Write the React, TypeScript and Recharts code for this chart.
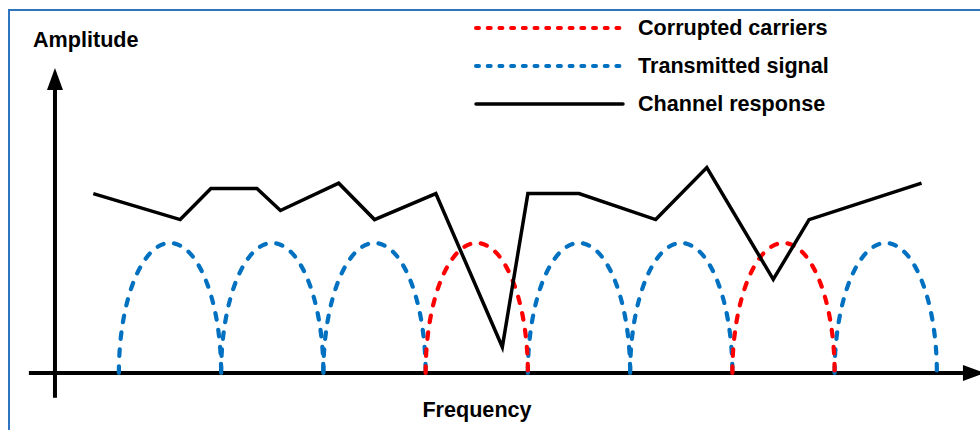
import React from "react";
import { LineChart, Line, XAxis, YAxis, ReferenceLine, Legend } from "recharts";

// carriers (frequency in carrier-spacing units)
const carrierCenters = [1, 2, 3, 4, 5, 6, 7, 8];
const corruptedCarriers = [4, 7];
const carrierPeak = 1;
const carrierHalfWidth = 0.5;

// channel response polyline
const responseFreq = [0.25, 1.1, 1.4, 1.85, 2.08, 2.65, 3.0, 3.6, 4.25, 4.5, 5.0, 5.75, 6.25, 6.9, 7.25, 8.35];
const responseAmp = [1.38, 1.18, 1.42, 1.42, 1.25, 1.46, 1.18, 1.38, 0.2, 1.38, 1.38, 1.18, 1.58, 0.72, 1.18, 1.46];

// axis arrows
const freqAxisRange = [-0.38, 8.755];
const ampAxisRange = [-0.19, 2.177];
const ampAxisAt = -0.125;

const legendItems = [
  { label: "Corrupted carriers", color: "#ff0000", dash: "3 8.7" },
  { label: "Transmitted signal", color: "#0070c0", dash: "3 8.7" },
  { label: "Channel response", color: "#000000", dash: undefined },
];

const RED = "#ff0000";
const BLUE = "#0070c0";
const FONT = "'Liberation Sans', Arial, sans-serif";
const FS = 21.6;
const ARC_DASH = "6.5 10.5";

const arcData = (c: number) => [
  { f: c - carrierHalfWidth, a: 0 },
  { f: c, a: carrierPeak },
  { f: c + carrierHalfWidth, a: 0 },
];

const responseData = responseFreq.map((f, i) => ({ f, a: responseAmp[i] }));

// d3-style curve: quarter ellipses between points (vertical tangent at the base, flat at the top)
function EllipseCurve(this: any, context: any) {
  this._context = context;
}
EllipseCurve.prototype = {
  areaStart() {
    this._line = 0;
  },
  areaEnd() {
    this._line = NaN;
  },
  lineStart() {
    this._point = 0;
  },
  lineEnd() {
    if (this._line || (this._line !== 0 && this._point === 1)) this._context.closePath();
    this._line = 1 - this._line;
  },
  point(x: number, y: number) {
    x = +x;
    y = +y;
    const ctx = this._context;
    if (this._point === 0) {
      this._point = 1;
      this._line ? ctx.lineTo(x, y) : ctx.moveTo(x, y);
    } else {
      this._point = 2;
      const x0 = this._x0, y0 = this._y0, k = 0.5523;
      if (y < y0) {
        ctx.bezierCurveTo(x0, y0 + k * (y - y0), x - k * (x - x0), y, x, y);
      } else {
        ctx.bezierCurveTo(x0 + k * (x - x0), y0, x, y - k * (y - y0), x, y);
      }
    }
    this._x0 = x;
    this._y0 = y;
  },
};
const curveHalfEllipse = (context: any) => new (EllipseCurve as any)(context);

const AxisArrow = (p: any) => {
  const { x1, y1, x2, y2 } = p;
  const horiz = Math.abs(x2 - x1) > Math.abs(y2 - y1);
  let sx, sy, ex, ey;
  if (horiz) {
    sx = Math.min(x1, x2);
    ex = Math.max(x1, x2);
    sy = ey = y1;
  } else {
    sy = Math.max(y1, y2);
    ey = Math.min(y1, y2);
    sx = ex = x1;
  }
  const len = Math.hypot(ex - sx, ey - sy) || 1;
  const dx = (ex - sx) / len, dy = (ey - sy) / len;
  const nx = -dy, ny = dx;
  const L = 22, W = 8;
  const pts = [
    [ex + dx * L, ey + dy * L],
    [ex + nx * W, ey + ny * W],
    [ex - nx * W, ey - ny * W],
  ]
    .map((q) => q.join(","))
    .join(" ");
  return (
    <g>
      <line x1={sx} y1={sy} x2={ex} y2={ey} stroke="#000" strokeWidth={4} />
      <polygon points={pts} fill="#000" />
    </g>
  );
};

const LegendBox = () => (
  <div style={{ fontFamily: FONT, fontWeight: "bold", fontSize: FS }}>
    {legendItems.map((it) => (
      <div key={it.label} style={{ display: "flex", alignItems: "center", height: 38 }}>
        <svg width={170} height={38} style={{ display: "block" }}>
          <line
            x1={8}
            x2={155}
            y1={19}
            y2={19}
            stroke={it.color}
            strokeWidth={it.dash ? 4 : 3.5}
            strokeDasharray={it.dash}
            strokeLinecap="round"
          />
        </svg>
        <span style={{ color: "#000", whiteSpace: "nowrap" }}>{it.label}</span>
      </div>
    ))}
  </div>
);

export default function App() {
  return (
    <div style={{ position: "absolute", left: 0, top: 0, width: 980, height: 430, overflow: "hidden", background: "#fff" }}>
      <div
        style={{
          position: "absolute",
          left: 8,
          top: 9,
          width: 1200,
          height: 600,
          border: "2px solid #2f74c0",
        }}
      />
      <div
        style={{
          position: "absolute",
          left: 33,
          top: 29,
          fontFamily: FONT,
          fontWeight: "bold",
          fontSize: FS,
          lineHeight: `${FS}px`,
          color: "#000",
        }}
      >
        Amplitude
      </div>
      <div
        style={{
          position: "absolute",
          left: 377,
          width: 200,
          textAlign: "center",
          top: 399,
          fontFamily: FONT,
          fontWeight: "bold",
          fontSize: FS,
          lineHeight: `${FS}px`,
          color: "#000",
        }}
      >
        Frequency
      </div>
      <div style={{ position: "absolute", left: 0, top: 0 }}>
        <LineChart width={980} height={430} margin={{ top: 35, right: 12.45, bottom: 31, left: 6.4 }}>
          <XAxis type="number" dataKey="f" domain={[-0.6, 8.8]} hide allowDataOverflow />
          <YAxis type="number" dataKey="a" domain={[-0.2, 2.6]} hide allowDataOverflow />
          <ReferenceLine
            segment={[
              { x: freqAxisRange[0], y: 0 },
              { x: freqAxisRange[1], y: 0 },
            ]}
            ifOverflow="visible"
            shape={AxisArrow}
          />
          <ReferenceLine
            segment={[
              { x: ampAxisAt, y: ampAxisRange[0] },
              { x: ampAxisAt, y: ampAxisRange[1] },
            ]}
            ifOverflow="visible"
            shape={AxisArrow}
          />
          {carrierCenters
            .filter((c) => !corruptedCarriers.includes(c))
            .map((c) => (
              <Line
                key={`tx-${c}`}
                data={arcData(c)}
                dataKey="a"
                type={curveHalfEllipse as any}
                stroke={BLUE}
                strokeWidth={4.2}
                strokeDasharray={ARC_DASH}
                strokeLinecap="round"
                dot={false}
                activeDot={false}
                legendType="none"
                isAnimationActive={false}
              />
            ))}
          {corruptedCarriers.map((c) => (
            <Line
              key={`bad-${c}`}
              data={arcData(c)}
              dataKey="a"
              type={curveHalfEllipse as any}
              stroke={RED}
              strokeWidth={4.2}
              strokeDasharray={ARC_DASH}
              strokeLinecap="round"
              dot={false}
              activeDot={false}
              legendType="none"
              isAnimationActive={false}
            />
          ))}
          <Line
            data={responseData}
            dataKey="a"
            type="linear"
            stroke="#000"
            strokeWidth={3.5}
            strokeLinejoin="miter"
            dot={false}
            activeDot={false}
            isAnimationActive={false}
          />
          <Legend
            layout="horizontal"
            verticalAlign="middle"
            align="center"
            content={LegendBox}
            wrapperStyle={{ left: 468, top: 9, width: 420, height: "auto" }}
          />
        </LineChart>
      </div>
    </div>
  );
}
